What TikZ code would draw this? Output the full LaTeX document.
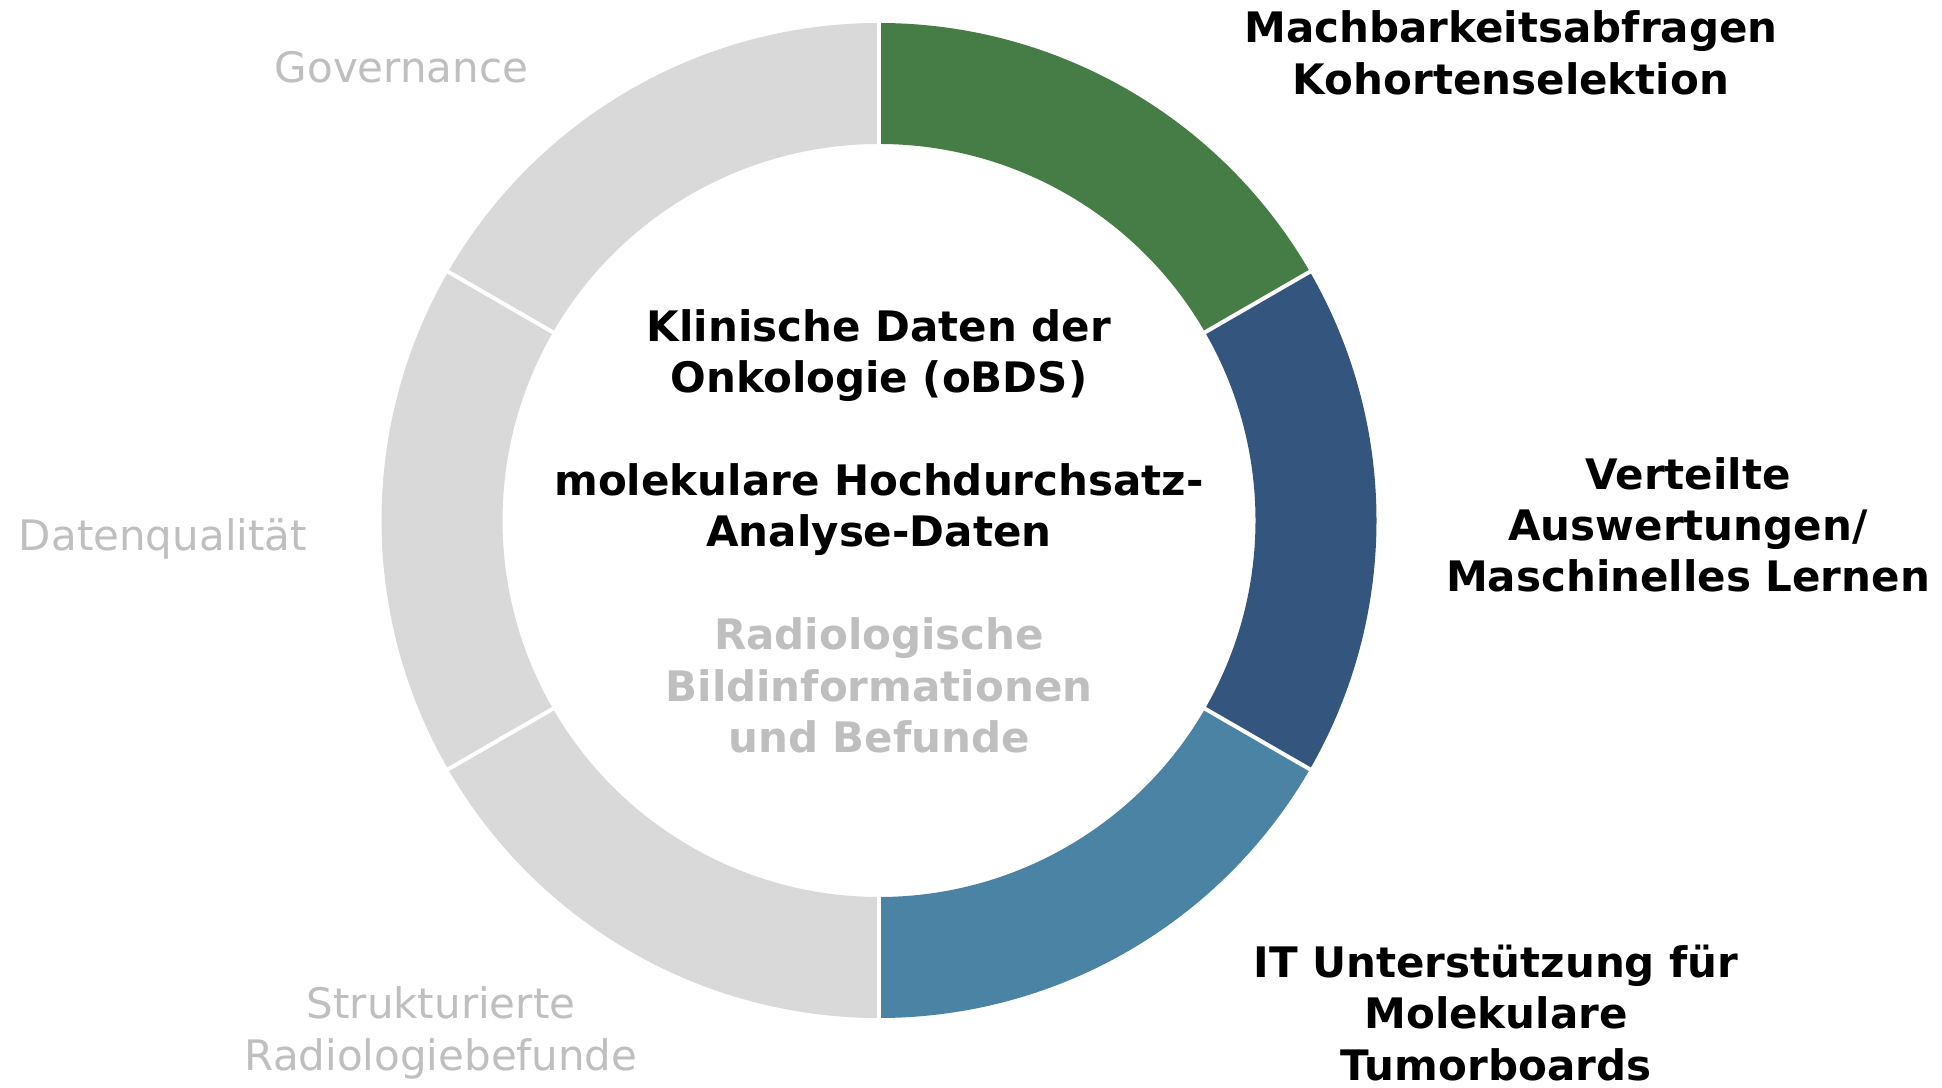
\documentclass[tikz,border=0pt]{standalone}
\usepackage{fontspec}
\setmainfont{DejaVu Sans}
\definecolor{segGreen}{HTML}{467D46}
\definecolor{segDark}{HTML}{34567E}
\definecolor{segLight}{HTML}{4A83A3}
\definecolor{segGray}{HTML}{D9D9D9}
\definecolor{txtGray}{HTML}{BFBFBF}
\begin{document}
\begin{tikzpicture}[x=0.5pt,y=0.5pt,
  lbl/.style={font=\fontsize{21}{25.65}\selectfont, align=center, anchor=base, inner sep=0pt},
  hot/.style={lbl, font=\fontsize{21}{25.65}\selectfont\bfseries, text=black},
  cold/.style={lbl, text=txtGray},
  coldbold/.style={hot, text=txtGray},
  sep/.style={white, line width=2pt}
]
\useasboundingbox (0,0) rectangle (1942,1087);
\fill[white] (0,0) rectangle (1942,1087);
\coordinate (c) at (879,566.5);
\newcommand\ringseg[3]{\fill[#3] ([shift={(c)}]#1:497.5) arc[start angle=#1,end angle=#2,radius=497.5] -- ([shift={(c)}]#2:376.5) arc[start angle=#2,end angle=#1,radius=376.5] -- cycle;}
\ringseg{90}{30}{segGreen}
\ringseg{30}{-30}{segDark}
\ringseg{-30}{-90}{segLight}
\ringseg{-90}{-150}{segGray}
\ringseg{-150}{-210}{segGray}
\ringseg{150}{90}{segGray}
\foreach \a in {90,30,-30,-90,-150,150}
  \draw[sep] ([shift={(c)}]\a:370) -- ([shift={(c)}]\a:505);
% anchor=base is the baseline of the last line
\node[hot] (mach) at (1511,992.7) {Machbarkeitsabfragen\\Kohortenselektion};
\node[hot] (vert) at (1688,495.3) {Verteilte\\Auswertungen/\\Maschinelles Lernen};
\node[hot] (itub) at (1496,7) {IT Unterstützung für\\Molekulare\\Tumorboards};
\node[cold] (gov) at (401.5,1004.7) {Governance};
\node[cold] (dq) at (163,536.3) {Datenqualität};
\node[cold] (strk) at (441,17) {Strukturierte\\Radiologiebefunde};
\node[hot] (ctrA) at (879,694) {Klinische Daten der\\Onkologie (oBDS)};
\node[hot] (ctrB) at (879,540.5) {molekulare Hochdurchsatz-\\Analyse-Daten};
\node[coldbold] (ctrC) at (879,334.5) {Radiologische\\Bildinformationen\\und Befunde};
\end{tikzpicture}
\end{document}
